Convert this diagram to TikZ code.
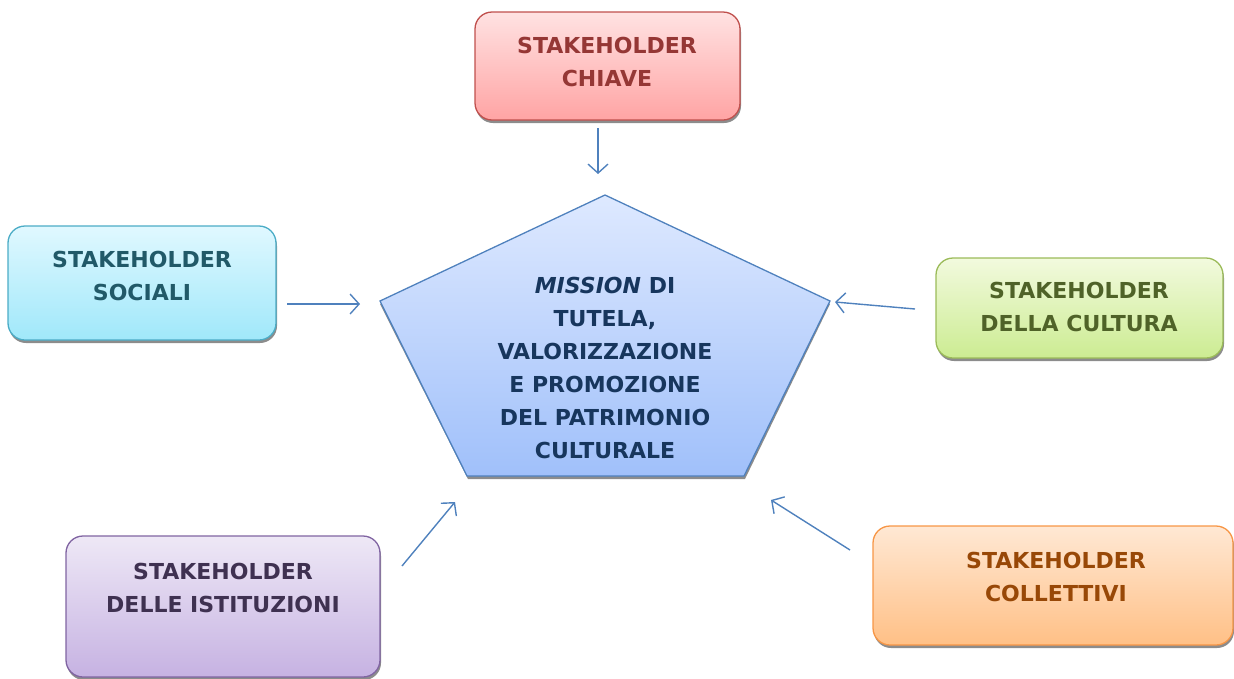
\documentclass[tikz,border=0pt]{standalone}
\usepackage{fontspec}
\setmainfont{DejaVu Sans}
\usetikzlibrary{arrows.meta,shadows}
\definecolor{arrowblue}{HTML}{4F81BD}
\tikzset{
  box/.style={draw, rounded corners=17pt, line width=1.3pt, inner sep=0pt,
    general shadow={fill=black!45, shadow xshift=1pt, shadow yshift=-3pt}},
  boxtext/.style={align=center, font=\fontsize{22}{33}\selectfont\bfseries, inner sep=0pt},
  link/.style={draw=arrowblue, line width=1.4pt, -{Straight Barb[length=9pt,width=20pt,line width=1.4pt]}},
}
\begin{document}
\begin{tikzpicture}[x=1pt,y=-1pt]
\useasboundingbox (0,0) rectangle (1234,678);
% pentagon
\fill[black!45] (605,198) -- (830,304) -- (745,479) -- (468,479) -- (380,304) -- cycle;
\path[draw=arrowblue, line width=1.3pt, top color={rgb,255:red,222;green,233;blue,255}, bottom color={rgb,255:red,160;green,192;blue,250}]
  (605,195) -- (830,301) -- (744,476) -- (467,476) -- (380,301) -- cycle;
\node[boxtext, text={rgb,255:red,23;green,54;blue,93}] (mission) at (605,368)
  {\textit{MISSION} DI\\TUTELA,\\VALORIZZAZIONE\\E PROMOZIONE\\DEL PATRIMONIO\\CULTURALE};
% boxes
\node[box, draw={rgb,255:red,192;green,80;blue,77}, top color={rgb,255:red,255;green,226;blue,226}, bottom color={rgb,255:red,255;green,164;blue,164},
  minimum width=265pt, minimum height=108pt] (chiave) at (607.5,66) {};
\node[boxtext, text={rgb,255:red,149;green,55;blue,53}] (chiaveT) at (607,61.5) {STAKEHOLDER\\CHIAVE};

\node[box, draw={rgb,255:red,75;green,172;blue,198}, top color={rgb,255:red,224;green,248;blue,255}, bottom color={rgb,255:red,160;green,232;blue,250},
  minimum width=268pt, minimum height=114pt] (sociali) at (142,283) {};
\node[boxtext, text={rgb,255:red,33;green,89;blue,104}] (socialiT) at (142,276) {STAKEHOLDER\\SOCIALI};

\node[box, draw={rgb,255:red,155;green,187;blue,89}, top color={rgb,255:red,242;green,250;blue,222}, bottom color={rgb,255:red,204;green,236;blue,146},
  minimum width=287pt, minimum height=100pt] (cultura) at (1079.5,308) {};
\node[boxtext, text={rgb,255:red,79;green,98;blue,40}] (culturaT) at (1079,307) {STAKEHOLDER\\DELLA CULTURA};

\node[box, draw={rgb,255:red,128;green,100;blue,162}, top color={rgb,255:red,238;green,232;blue,246}, bottom color={rgb,255:red,198;green,178;blue,226},
  minimum width=314pt, minimum height=141pt] (istituzioni) at (223,606.5) {};
\node[boxtext, text={rgb,255:red,63;green,49;blue,81}] (istituzioniT) at (223,588) {STAKEHOLDER\\DELLE ISTITUZIONI};

\node[box, draw={rgb,255:red,247;green,150;blue,70}, top color={rgb,255:red,255;green,232;blue,212}, bottom color={rgb,255:red,255;green,192;blue,134},
  minimum width=360pt, minimum height=119pt] (collettivi) at (1053,585.5) {};
\node[boxtext, text={rgb,255:red,152;green,72;blue,7}] (collettiviT) at (1056,577) {STAKEHOLDER\\COLLETTIVI};

% arrow ends
\coordinate (c1s) at (598,128); \coordinate (c1e) at (598,174);
\coordinate (c2s) at (287,304); \coordinate (c2e) at (360,304);
\coordinate (c3s) at (915,309); \coordinate (c3e) at (835,302);
\coordinate (c4s) at (402,566); \coordinate (c4e) at (455,502);
\coordinate (c5s) at (850,550); \coordinate (c5e) at (771,500);
\draw[link] (c1s) -- (c1e);
\draw[link] (c2s) -- (c2e);
\draw[link] (c3s) -- (c3e);
\draw[link] (c4s) -- (c4e);
\draw[link] (c5s) -- (c5e);
\end{tikzpicture}
\end{document}
